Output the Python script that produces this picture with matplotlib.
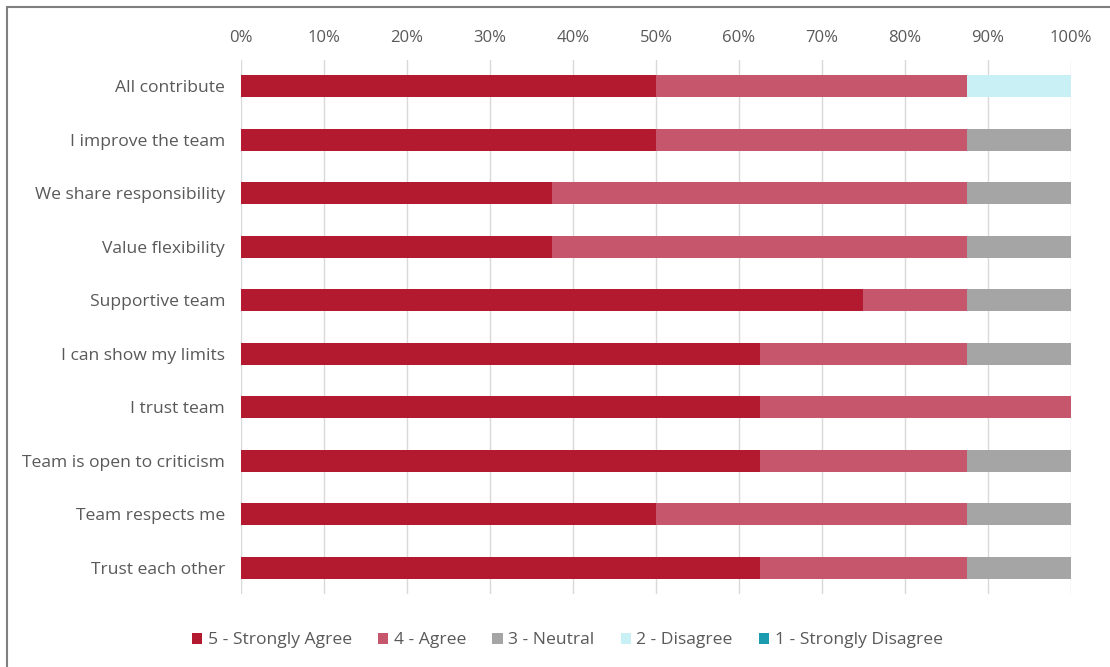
import matplotlib.pyplot as plt
import numpy as np
from matplotlib.patches import Rectangle
from matplotlib.ticker import FuncFormatter, MultipleLocator

plt.rcParams["font.family"] = ["Open Sans", "DejaVu Sans"]

# survey statements, top to bottom
statements = [
    "All contribute",
    "I improve the team",
    "We share responsibility",
    "Value flexibility",
    "Supportive team",
    "I can show my limits",
    "I trust team",
    "Team is open to criticism",
    "Team respects me",
    "Trust each other",
]

# share of answers per level (%)
strongly_agree = [50, 50, 37.5, 37.5, 75, 62.5, 62.5, 62.5, 50, 62.5]
agree = [37.5, 37.5, 50, 50, 12.5, 25, 37.5, 25, 37.5, 25]
neutral = [0, 12.5, 12.5, 12.5, 12.5, 12.5, 0, 12.5, 12.5, 12.5]
disagree = [12.5, 0, 0, 0, 0, 0, 0, 0, 0, 0]
strongly_disagree = [0, 0, 0, 0, 0, 0, 0, 0, 0, 0]

series_labels = ["5 - Strongly Agree", "4 - Agree", "3 - Neutral",
                 "2 - Disagree", "1 - Strongly Disagree"]
colors = ["#B3192F", "#C5566B", "#A5A5A5", "#C8F0F5", "#1A9BAF"]

text_color = "#595959"

fig = plt.figure(figsize=(11.1, 6.67), dpi=100)
ax = fig.add_axes([0.2171, 0.1087, 0.7477, 0.802])

y = np.arange(len(statements))
left = np.zeros(len(statements))
for vals, label, color in zip(
        [strongly_agree, agree, neutral, disagree, strongly_disagree],
        series_labels, colors):
    vals = np.asarray(vals, dtype=float)
    ax.barh(y, vals, left=left, height=0.41, color=color, label=label, zorder=2)
    left += vals

ax.set_xlim(0, 100)
ax.set_ylim(len(statements) - 0.5, -0.5)
ax.set_yticks(y)
ax.set_yticklabels(statements)
ax.xaxis.set_major_locator(MultipleLocator(10))
ax.xaxis.set_major_formatter(FuncFormatter(lambda v, _: f"{v:.0f}%"))
ax.xaxis.tick_top()
ax.tick_params(axis="both", length=0, colors=text_color)
ax.tick_params(axis="x", labelsize=12, pad=10)
ax.tick_params(axis="y", labelsize=12.6, pad=11.5)
ax.grid(axis="x", color="#D9D9D9", linewidth=1, zorder=0)
for side in ax.spines.values():
    side.set_visible(False)

leg = fig.legend(loc="center", bbox_to_anchor=(0.511, 0.04), ncol=5,
                 frameon=False, fontsize=12.6, handlelength=0.6,
                 handleheight=0.6, handletextpad=0.3, columnspacing=1.5)
for txt in leg.get_texts():
    txt.set_color(text_color)

# outer frame of the chart area
fig.patches.append(Rectangle((7 / 1110, -0.05), 1.1, 1 - 7 / 667 + 0.05,
                             transform=fig.transFigure, fill=False,
                             edgecolor="#7F7F7F", linewidth=1.5))

fig.savefig("out.png", dpi=100)
